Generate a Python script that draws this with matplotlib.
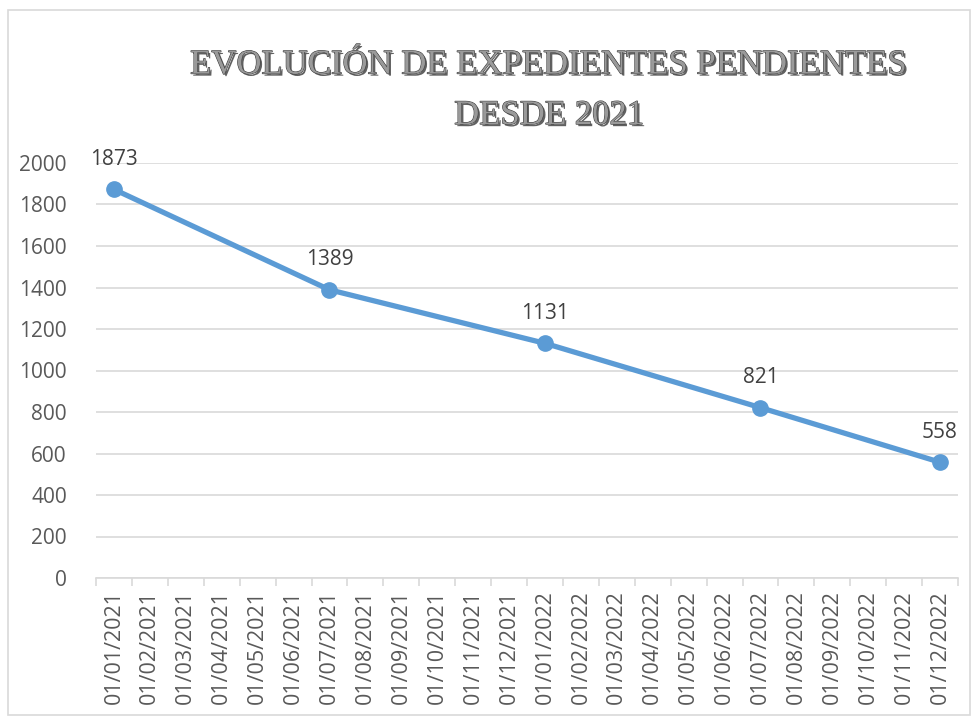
import matplotlib.pyplot as plt
import matplotlib.patheffects as pe
from matplotlib.patches import Rectangle

# data
months = ['01/01/2021', '01/02/2021', '01/03/2021', '01/04/2021', '01/05/2021', '01/06/2021',
          '01/07/2021', '01/08/2021', '01/09/2021', '01/10/2021', '01/11/2021', '01/12/2021',
          '01/01/2022', '01/02/2022', '01/03/2022', '01/04/2022', '01/05/2022', '01/06/2022',
          '01/07/2022', '01/08/2022', '01/09/2022', '01/10/2022', '01/11/2022', '01/12/2022']
dates = ['01/01/2021', '01/07/2021', '01/01/2022', '01/07/2022', '01/12/2022']
values = [1873, 1389, 1131, 821, 558]
yticks = [0, 200, 400, 600, 800, 1000, 1200, 1400, 1600, 1800, 2000]

plt.rcParams['font.family'] = ['Open Sans', 'DejaVu Sans']

fig = plt.figure(figsize=(9.74, 7.17), dpi=100)
ax = fig.add_axes([96 / 974, 1 - 578 / 717, (958 - 96) / 974, (578 - 163) / 717])

x = [months.index(d) for d in dates]
ax.plot(x, values, color='#5B9BD5', lw=3.8, marker='o', ms=11, zorder=3)
for xi, v in zip(x, values):
    ax.annotate(str(v), (xi, v), xytext=(0, 14), textcoords='offset points',
                ha='center', va='bottom', fontsize=15, color='#404040')

ax.set_xlim(-0.5, len(months) - 0.5)
ax.set_ylim(0, 2000)
ax.set_yticks(yticks)
ax.set_yticklabels([str(t) for t in yticks], fontsize=15, color='#595959')
ax.set_xticks(range(len(months)))
ax.set_xticklabels(months, rotation=90, fontsize=15.5, color='#595959')
ax.set_xticks([i - 0.5 for i in range(len(months) + 1)], minor=True)
ax.tick_params(axis='x', which='major', length=0, pad=9)
ax.tick_params(axis='x', which='minor', length=6, color='#d9d9d9', width=1.2)
ax.tick_params(axis='y', length=0, pad=21)
ax.grid(axis='y', color='#d9d9d9', lw=1.2)
ax.set_axisbelow(True)
for s in ['top', 'right', 'left']:
    ax.spines[s].set_visible(False)
ax.spines['bottom'].set_color('#d9d9d9')
ax.spines['bottom'].set_linewidth(1.2)

fig.text(0.564, 0.874, 'EVOLUCIÓN DE EXPEDIENTES PENDIENTES\nDESDE 2021',
         ha='center', va='center', fontsize=25, family='Liberation Serif',
         color='#9a9a9a', linespacing=1.7,
         path_effects=[pe.withSimplePatchShadow(offset=(1.5, -1.5), shadow_rgbFace='#505050', alpha=0.9),
                       pe.Stroke(linewidth=0.8, foreground='#404040'), pe.Normal()])

fig.patches.append(Rectangle((8 / 974, 2 / 717), 962 / 974, 705 / 717, transform=fig.transFigure,
                             fill=False, edgecolor='#d9d9d9', lw=1.2))

fig.savefig('out.png', dpi=100)
